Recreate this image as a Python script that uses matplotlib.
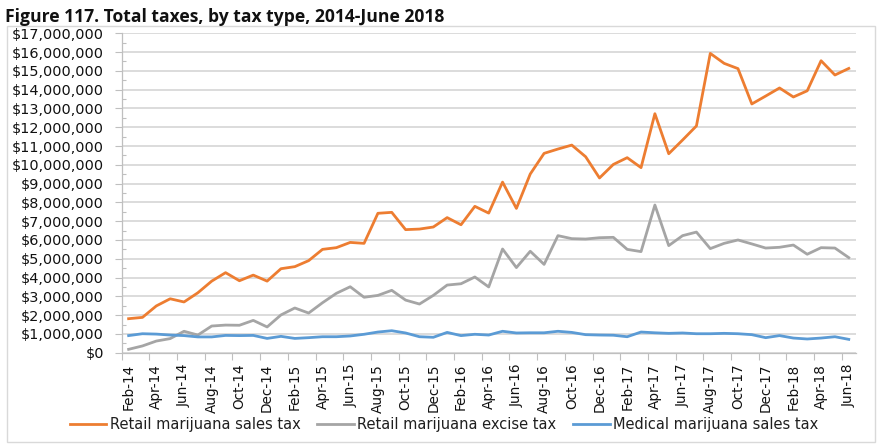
import numpy as np
import pandas as pd
import matplotlib
matplotlib.use("Agg")
import matplotlib.pyplot as plt
from matplotlib.patches import Rectangle
from matplotlib.ticker import FuncFormatter, MultipleLocator, FixedLocator

# Monthly tax collections, Feb 2014 - Jun 2018 (millions of dollars)
months = pd.date_range("2014-02-01", "2018-06-01", freq="MS").strftime("%b-%y").tolist()

retail_sales_tax = [
    1.81, 1.88, 2.49, 2.87, 2.70, 3.19, 3.81, 4.26, 3.83, 4.13,
    3.81, 4.47, 4.58, 4.90, 5.50, 5.59, 5.87, 5.82, 7.42, 7.47,
    6.55, 6.58, 6.69, 7.19, 6.81, 7.79, 7.43, 9.08, 7.68, 9.51,
    10.61, 10.84, 11.05, 10.43, 9.30, 10.02, 10.38, 9.85, 12.72, 10.59,
    11.32, 12.07, 15.93, 15.40, 15.12, 13.24, 13.66, 14.09, 13.61, 13.94,
    15.54, 14.78, 15.13,
]
retail_excise_tax = [
    0.18, 0.36, 0.62, 0.75, 1.14, 0.94, 1.42, 1.47, 1.46, 1.72,
    1.37, 2.01, 2.38, 2.11, 2.66, 3.16, 3.51, 2.95, 3.05, 3.32,
    2.80, 2.59, 3.05, 3.60, 3.67, 4.03, 3.50, 5.52, 4.53, 5.40,
    4.70, 6.23, 6.07, 6.05, 6.12, 6.14, 5.50, 5.38, 7.86, 5.70,
    6.23, 6.42, 5.54, 5.82, 6.00, 5.79, 5.57, 5.61, 5.73, 5.24,
    5.59, 5.57, 5.06,
]
medical_sales_tax = [
    0.91, 1.01, 0.99, 0.94, 0.91, 0.84, 0.84, 0.92, 0.91, 0.92,
    0.76, 0.87, 0.76, 0.80, 0.85, 0.85, 0.89, 0.98, 1.10, 1.17,
    1.05, 0.85, 0.82, 1.08, 0.91, 0.98, 0.94, 1.14, 1.05, 1.06,
    1.06, 1.14, 1.08, 0.96, 0.94, 0.93, 0.85, 1.10, 1.06, 1.03,
    1.05, 1.01, 1.01, 1.03, 1.01, 0.96, 0.80, 0.91, 0.78, 0.73,
    0.78, 0.85, 0.71,
]

series = [
    ("Retail marijuana sales tax", retail_sales_tax, "#ED7D31"),
    ("Retail marijuana excise tax", retail_excise_tax, "#A5A5A5"),
    ("Medical marijuana sales tax", medical_sales_tax, "#5B9BD5"),
]

W, H = 881, 445
fig = plt.figure(figsize=(W / 100, H / 100), dpi=100)
ax = fig.add_axes([121.7 / W, 1 - 352.7 / H, (855.7 - 121.7) / W, (352.7 - 33.3) / H])

x = np.arange(len(months))
for label, vals, color in series:
    ax.plot(x, np.array(vals) * 1e6, color=color, lw=2.0, label=label,
            solid_joinstyle="round", zorder=3)

ax.set_xlim(-0.5, len(months) - 0.5)
ax.set_ylim(0, 17e6)

# y axis: dollar labels every $1M, small inner ticks at the half million
ax.yaxis.set_major_locator(MultipleLocator(1e6))
ax.yaxis.set_minor_locator(MultipleLocator(0.5e6))
ax.yaxis.set_major_formatter(FuncFormatter(lambda v, _: f"${v:,.0f}"))
ax.tick_params(axis="y", which="major", direction="out", length=4.8, width=0.8,
               color="#BFBFBF", pad=8, labelsize=10.4, labelcolor="#111111")
ax.tick_params(axis="y", which="minor", direction="in", length=3, width=0.8,
               color="#BFBFBF")
ax.grid(axis="y", which="major", color="#D9D9D9", lw=1.3, zorder=0)

# x axis: label every second month, tick marks between categories
ax.xaxis.set_major_locator(FixedLocator(x[::2]))
ax.set_xticklabels(months[::2], rotation=90, va="top", ha="center",
                   family=["Liberation Sans Narrow", "DejaVu Sans"], fontsize=9.8,
                   color="#111111")
ax.xaxis.set_minor_locator(FixedLocator(x[::2] - 0.5))
ax.tick_params(axis="x", which="major", length=0, pad=8)
ax.tick_params(axis="x", which="minor", direction="out", length=5, width=0.8,
               color="#BFBFBF")

for side in ("top", "right"):
    ax.spines[side].set_visible(False)
for side in ("left", "bottom"):
    ax.spines[side].set_color("#BFBFBF")
    ax.spines[side].set_linewidth(0.9)

fig.text(5 / W, 1 - 21.7 / H, "Figure 117. Total taxes, by tax type, 2014-June 2018",
         family="Open Sans", fontweight="bold", fontsize=12.6, va="baseline",
         color="#111111")

fig.legend(loc="center", bbox_to_anchor=(444 / W, 1 - 425 / H), ncol=3,
           frameon=False, fontsize=10.5, handlelength=2.5, handletextpad=0.25,
           columnspacing=1.15, labelcolor="#1f1f1f")

fig.add_artist(Rectangle((7 / W, 1 - 442 / H), (875 - 7) / W, (442 - 26) / H,
                         transform=fig.transFigure, fill=False,
                         ec="#D9D9D9", lw=1))

fig.savefig("out.png", dpi=100)
